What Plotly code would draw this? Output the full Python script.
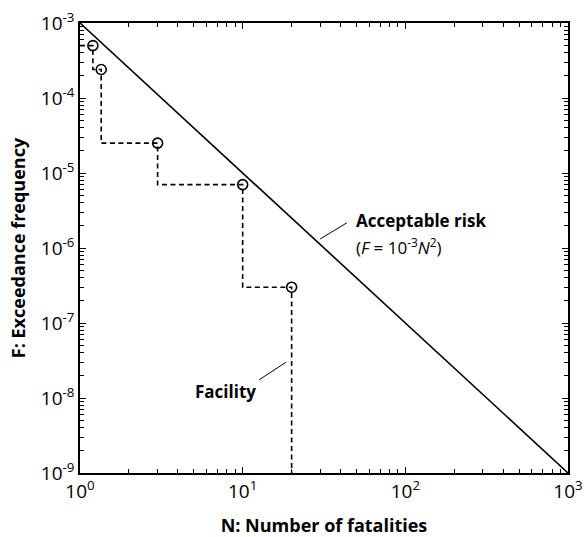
import plotly.graph_objects as go

# Facility F-N curve (circles)
N_facility = [1.2, 1.35, 3, 10, 20]
F_facility = [5e-4, 2.4e-4, 2.5e-5, 7e-6, 3e-7]
F_floor = 1e-9  # where the last step drops to

# Acceptable risk line endpoints
N_accept = [1, 1000]
F_accept = [1e-3, 1e-9]

x_ticks = [1, 10, 100, 1000]
x_ticktext = ["10<sup>0</sup>", "10<sup>1</sup>", "10<sup>2</sup>", "10<sup>3</sup>"]
y_ticks = [1e-9, 1e-8, 1e-7, 1e-6, 1e-5, 1e-4, 1e-3]
y_ticktext = ["10<sup>-9</sup>", "10<sup>-8</sup>", "10<sup>-7</sup>", "10<sup>-6</sup>",
              "10<sup>-5</sup>", "10<sup>-4</sup>", "10<sup>-3</sup>"]

FONT = "Open Sans"

x_minor = [k * 10 ** d for d in range(0, 3) for k in range(2, 10)]
y_minor = [k * 10.0 ** d for d in range(-9, -3) for k in range(2, 10)]

fig = go.Figure()

fig.add_trace(go.Scatter(
    x=N_accept, y=F_accept, mode="lines",
    line=dict(color="black", width=1.6), showlegend=False, hoverinfo="skip"))

step_x = [1] + N_facility
step_y = F_facility + [F_floor]
fig.add_trace(go.Scatter(
    x=step_x, y=step_y, mode="lines", line_shape="hv",
    line=dict(color="black", width=1.6, dash="5px,3.5px"),
    showlegend=False, hoverinfo="skip"))

fig.add_trace(go.Scatter(
    x=N_facility, y=F_facility, mode="markers",
    marker=dict(symbol="circle-open", size=10, color="black", line=dict(width=1.6)),
    showlegend=False))

axis_common = dict(
    type="log", showgrid=False, zeroline=False, automargin=False,
    showline=True, linecolor="black", linewidth=1.6, mirror="allticks",
    ticks="inside", ticklen=6, tickwidth=1, tickcolor="black",
    ticklabeloverflow="allow",
    tickfont=dict(family=FONT, size=19, color="black"),
)

fig.update_xaxes(
    **axis_common, range=[0, 3], tickmode="array", tickvals=x_ticks, ticktext=x_ticktext,
    minor=dict(tickmode="array", tickvals=x_minor, ticks="inside", ticklen=4,
               tickcolor="black", tickwidth=1, showgrid=False),
    title=dict(text="<b>N: Number of fatalities</b>",
               font=dict(family=FONT, size=18, color="black"), standoff=24))
fig.update_yaxes(
    **axis_common, range=[-9, -3], tickmode="array", tickvals=y_ticks, ticktext=y_ticktext,
    minor=dict(tickmode="array", tickvals=y_minor, ticks="inside", ticklen=4,
               tickcolor="black", tickwidth=1, showgrid=False),
    title=dict(text="<b>F: Exceedance frequency</b>",
               font=dict(family=FONT, size=18, color="black"), standoff=10))

# leader lines (paper coordinates)
fig.add_shape(type="line", xref="paper", yref="paper", x0=0.492, y0=0.520, x1=0.547, y1=0.556,
              line=dict(color="black", width=1))
fig.add_shape(type="line", xref="paper", yref="paper", x0=0.367, y0=0.207, x1=0.422, y1=0.246,
              line=dict(color="black", width=1))

fig.add_annotation(xref="paper", yref="paper", x=0.561, y=0.562, xanchor="left", yanchor="middle",
                   text="<b>Acceptable risk</b>", showarrow=False,
                   font=dict(family=FONT, size=17, color="black"))
fig.add_annotation(xref="paper", yref="paper", x=0.561, y=0.504, xanchor="left", yanchor="middle",
                   text="(<i>F</i> = 10<sup>-3</sup><i>N</i><sup>2</sup>)", showarrow=False,
                   font=dict(family=FONT, size=17, color="black"))
fig.add_annotation(xref="paper", yref="paper", x=0.232, y=0.182, xanchor="left", yanchor="middle",
                   text="<b>Facility</b>", showarrow=False,
                   font=dict(family=FONT, size=17, color="black"))

fig.update_layout(
    width=584, height=537,
    margin=dict(l=80, r=16, t=23, b=64),
    plot_bgcolor="white", paper_bgcolor="white",
    font=dict(family=FONT, color="black"),
)

fig.write_html("out.html")
